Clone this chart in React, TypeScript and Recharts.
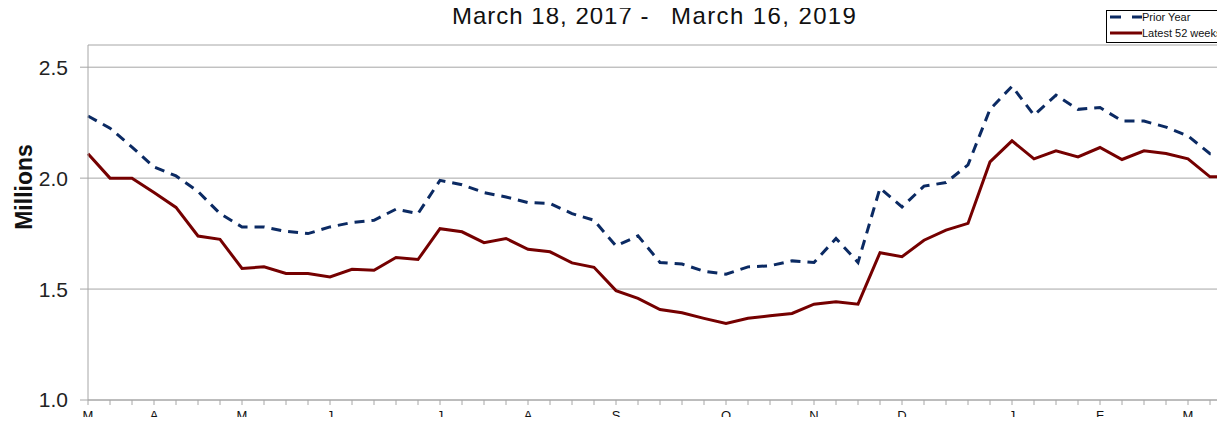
import React from 'react';
import { LineChart, Line, XAxis, YAxis, CartesianGrid } from 'recharts';

// weekly values, millions
const priorYear = [
  2.28, 2.225, 2.14, 2.05, 2.01, 1.94, 1.84, 1.78, 1.78, 1.76, 1.75, 1.78, 1.8, 1.81,
  1.86, 1.84, 1.99, 1.97, 1.935, 1.915, 1.89, 1.886, 1.84, 1.81, 1.694, 1.74, 1.62,
  1.613, 1.58, 1.567, 1.6, 1.605, 1.627, 1.62, 1.728, 1.62, 1.955, 1.87, 1.964, 1.98,
  2.06, 2.31, 2.414, 2.284, 2.374, 2.31, 2.318, 2.258, 2.257, 2.23, 2.19, 2.11, 2.11,
];
const latest52 = [
  2.11, 2.0, 2.0, 1.935, 1.868, 1.739, 1.724, 1.593, 1.6, 1.57, 1.57, 1.555, 1.589, 1.585,
  1.642, 1.633, 1.772, 1.758, 1.709, 1.728, 1.679, 1.668, 1.618, 1.598, 1.493, 1.458, 1.408,
  1.393, 1.368, 1.345, 1.368, 1.38, 1.39, 1.432, 1.443, 1.432, 1.664, 1.646, 1.72, 1.766,
  1.796, 2.073, 2.168, 2.087, 2.123, 2.096, 2.138, 2.084, 2.123, 2.111, 2.087, 2.006, 2.006,
];
const monthLabels = ['M', 'A', 'M', 'J', 'J', 'A', 'S', 'O', 'N', 'D', 'J', 'F', 'M'];
const monthStartWeek = [0, 3, 7, 11, 16, 20, 24, 29, 33, 37, 42, 46, 50];
const yTicks = [1.0, 1.5, 2.0, 2.5];

const weeks = priorYear.map((_, i) => i);
const data = weeks.map((w) => ({ week: w, prior: priorYear[w], latest: latest52[w] }));

const FONT = '"Liberation Sans", Arial, sans-serif';
const GRID = '#a6a6a6';
const NAVY = '#0b2a63';
const MAROON = '#750000';

const MonthTick = (props: any) => {
  const { x, payload } = props;
  const idx = monthStartWeek.indexOf(payload.value);
  if (idx < 0) return null;
  return (
    <text x={x} y={412} textAnchor="middle" fontSize={13} fontFamily={FONT} fill="#111">
      {monthLabels[idx]}
    </text>
  );
};

export default function App() {
  // wrapper cancels the body margin so the page itself is the drawing area
  return (
    <div style={{ position: 'relative', width: 1225, height: 425, overflow: 'hidden', margin: -8 }}>
      <svg width={1225} height={48} style={{ position: 'absolute', left: 0, top: 0 }} fontFamily={FONT}>
        <text x={452} y={24} fontSize={24} fill="#111" letterSpacing={1}>
          March 18, 2017 -
        </text>
        <text x={671} y={24} fontSize={24} fill="#111" letterSpacing={1.4}>
          March 16, 2019
        </text>
        <rect x={1106.5} y={10.5} width={140} height={32} fill="#fff" stroke="#000" strokeWidth={1} />
        <line x1={1110} y1={17} x2={1142} y2={17} stroke={NAVY} strokeWidth={3} strokeDasharray="11 11" />
        <text x={1142} y={21} fontSize={11} fill="#111">
          Prior Year
        </text>
        <line x1={1110} y1={33} x2={1142} y2={33} stroke={MAROON} strokeWidth={3} />
        <text x={1142} y={37} fontSize={11} fill="#111">
          Latest 52 weeks
        </text>
      </svg>
      <div style={{ position: 'absolute', left: 8, top: 8 }}>
        <LineChart width={1240} height={417} data={data} margin={{ top: 37, right: 16, left: 0, bottom: 0 }}>
          <CartesianGrid vertical={false} stroke={GRID} />
          <XAxis
            dataKey="week"
            ticks={weeks}
            interval={0}
            height={25}
            stroke={GRID}
            tickSize={5}
            tick={<MonthTick />}
          />
          <YAxis
            domain={[1.0, 2.6]}
            ticks={yTicks}
            width={80}
            stroke={GRID}
            tickSize={8}
            tickMargin={12}
            tickFormatter={(v: number) => v.toFixed(1)}
            tick={{ fontSize: 21, fontFamily: FONT, fill: '#222' }}
            label={{
              value: 'Millions',
              content: () => (
                <text
                  x={24}
                  y={179}
                  fontSize={23}
                  fontWeight="bold"
                  fontFamily={FONT}
                  fill="#111"
                  textAnchor="middle"
                  transform="rotate(-90, 24, 179)"
                >
                  Millions
                </text>
              ),
            }}
          />
          <Line
            dataKey="prior"
            stroke={NAVY}
            strokeWidth={3}
            strokeDasharray="10 7"
            dot={false}
            isAnimationActive={false}
          />
          <Line dataKey="latest" stroke={MAROON} strokeWidth={3} dot={false} isAnimationActive={false} />
        </LineChart>
      </div>
    </div>
  );
}
